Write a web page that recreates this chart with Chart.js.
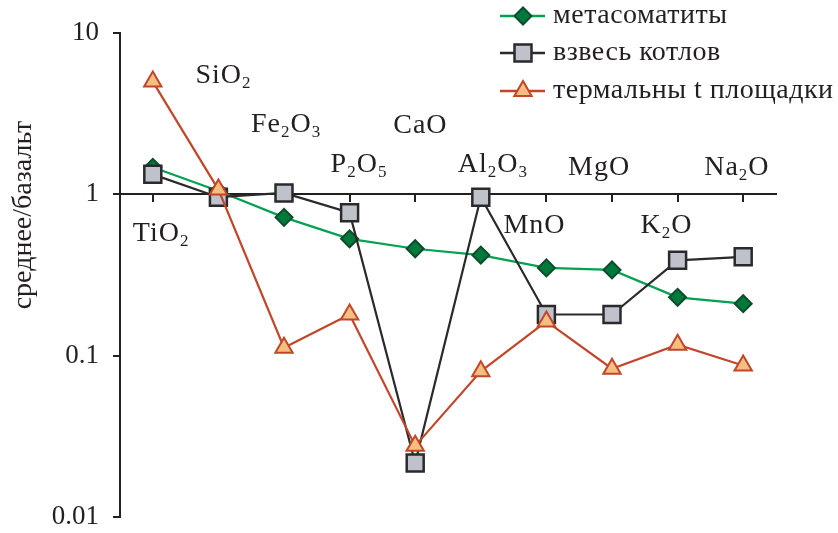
<!DOCTYPE html>
<html>
<head>
<meta charset="utf-8">
<script src="https://cdn.jsdelivr.net/npm/chart.js@4/dist/chart.umd.min.js"></script>
<style>
  html, body { margin: 0; padding: 0; background: #ffffff; }
  #wrap { width: 838px; height: 533px; position: relative; }
</style>
</head>
<body>
<div id="wrap"><canvas id="chart" width="838" height="533"></canvas></div>
<script>
// Oxides along the category axis (digits are rendered as subscripts)
const categories = ['TiO2', 'SiO2', 'Fe2O3', 'P2O5', 'CaO', 'Al2O3', 'MnO', 'MgO', 'K2O', 'Na2O'];

// Average composition normalised to basalt
const metasomatites = [1.47, 1.05, 0.72, 0.53, 0.46, 0.42, 0.35, 0.34, 0.23, 0.21];
const cauldronSuspension = [1.33, 0.96, 1.02, 0.77, 0.0216, 0.96, 0.18, 0.18, 0.39, 0.41];
const thermalSites = [5.0, 1.07, 0.112, 0.18, 0.0276, 0.080, 0.163, 0.083, 0.117, 0.087];

const seriesNames = ['метасоматиты', 'взвесь котлов', 'термальны t площадки'];
const yTicks = [0.01, 0.1, 1, 10];
const yTitle = 'среднее/базальт';

const INK = '#231f20';
const SERIF = "'Liberation Serif', 'Times New Roman', serif";

// Where each oxide name sits: offset from its category tick (dx) and from the axis line (dy)
const labelOffsets = [
  [-20, 47], [-23, -111], [-33, -62], [-19, -22], [-22, -61],
  [-23, -22], [-43, 39], [-44, -19], [-37, 39], [-39, -19]
];

const styles = [
  { line: '#05a051', fill: '#00793a', border: '#0b4d2a', shape: 'rectRot', radius: 8.5, borderWidth: 2 },
  { line: '#2a2a2d', fill: '#bfc2ca', border: '#2a2a2d', shape: 'rect', radius: 12, borderWidth: 2.5 },
  { line: '#c2462a', fill: '#f4bf80', border: '#c2462a', shape: 'triangle', radius: 10, borderWidth: 2 }
];

function splitFormula(text) {
  const parts = [];
  const re = /(\d+|\D+)/g;
  let m;
  while ((m = re.exec(text)) !== null) {
    parts.push({ text: m[0], sub: /\d/.test(m[0]) });
  }
  return parts;
}

function drawFormula(ctx, text, x, baseline) {
  let cx = x;
  for (const part of splitFormula(text)) {
    ctx.font = (part.sub ? '17px ' : '28px ') + SERIF;
    const y = part.sub ? baseline + 5 : baseline;
    ctx.fillText(part.text, cx, y);
    cx += ctx.measureText(part.text).width;
  }
}

const oxideLabels = {
  id: 'oxideLabels',
  afterDatasetsDraw(chart) {
    const ctx = chart.ctx;
    const xs = chart.scales.x;
    const ys = chart.scales.y;
    const axisY = ys.getPixelForValue(1);
    ctx.save();
    ctx.fillStyle = INK;
    ctx.textAlign = 'left';
    ctx.textBaseline = 'alphabetic';
    ctx.letterSpacing = '1px';
    categories.forEach((name, i) => {
      const px = xs.getPixelForValue(i);
      drawFormula(ctx, name, px + labelOffsets[i][0], axisY + labelOffsets[i][1]);
    });
    ctx.restore();
  }
};

const seriesKey = {
  id: 'seriesKey',
  afterDraw(chart) {
    const ctx = chart.ctx;
    const x0 = 500, x1 = 545, xm = 523, tx = 553;
    const rows = [16, 53, 91];
    ctx.save();
    seriesNames.forEach((name, i) => {
      const s = styles[i];
      const y = rows[i];
      ctx.strokeStyle = s.line;
      ctx.lineWidth = 2.5;
      ctx.beginPath();
      ctx.moveTo(x0, y);
      ctx.lineTo(x1, y);
      ctx.stroke();
      ctx.fillStyle = s.fill;
      ctx.strokeStyle = s.border;
      ctx.lineWidth = s.borderWidth;
      Chart.helpers.drawPoint(ctx, { pointStyle: s.shape, radius: s.radius, borderWidth: s.borderWidth, rotation: 0 }, xm, y);
      ctx.fillStyle = INK;
      ctx.font = '28px ' + SERIF;
      ctx.letterSpacing = '0.5px';
      ctx.textAlign = 'left';
      ctx.textBaseline = 'middle';
      ctx.fillText(name, tx, y);
    });
    ctx.restore();
  }
};

const sideTitle = {
  id: 'sideTitle',
  afterDraw(chart) {
    const ctx = chart.ctx;
    ctx.save();
    ctx.translate(24, 215);
    ctx.rotate(-Math.PI / 2);
    ctx.fillStyle = INK;
    ctx.font = '28px ' + SERIF;
    ctx.textAlign = 'center';
    ctx.textBaseline = 'middle';
    ctx.fillText(yTitle, 0, 0);
    ctx.restore();
  }
};

function makeDataset(label, data, s, order) {
  return {
    label,
    data,
    order,
    borderColor: s.line,
    borderWidth: 2.2,
    backgroundColor: s.fill,
    pointStyle: s.shape,
    pointRadius: s.radius,
    pointHoverRadius: s.radius,
    pointBackgroundColor: s.fill,
    pointBorderColor: s.border,
    pointBorderWidth: s.borderWidth,
    tension: 0,
    fill: false
  };
}

new Chart(document.getElementById('chart'), {
  type: 'line',
  data: {
    labels: categories,
    datasets: [
      makeDataset(seriesNames[0], metasomatites, styles[0], 3),
      makeDataset(seriesNames[1], cauldronSuspension, styles[1], 2),
      makeDataset(seriesNames[2], thermalSites, styles[2], 1)
    ]
  },
  options: {
    responsive: false,
    animation: false,
    devicePixelRatio: 1,
    layout: { padding: { top: 33, right: 62, bottom: 16, left: 0 } },
    plugins: {
      legend: { display: false },
      tooltip: { enabled: false },
      title: { display: false }
    },
    scales: {
      x: {
        type: 'category',
        axis: 'x',
        offset: true,
        position: { y: 1 },
        grid: {
          display: true,
          drawOnChartArea: false,
          drawTicks: true,
          tickLength: 7,
          color: INK,
          lineWidth: 2
        },
        border: { display: true, color: INK, width: 2 },
        ticks: { display: false }
      },
      y: {
        type: 'logarithmic',
        position: 'left',
        min: 0.01,
        max: 10,
        afterBuildTicks(scale) {
          scale.ticks = yTicks.map(v => ({ value: v, major: true }));
        },
        afterFit(scale) {
          scale.width = 120;
          scale.paddingTop = 0;
          scale.paddingBottom = 0;
        },
        grid: {
          display: true,
          drawOnChartArea: false,
          drawTicks: true,
          tickLength: 7,
          color: INK,
          lineWidth: 2
        },
        border: { display: true, color: INK, width: 2 },
        ticks: {
          padding: 14,
          color: INK,
          font: { family: SERIF, size: 27 },
          callback: v => String(v)
        }
      }
    }
  },
  plugins: [oxideLabels, seriesKey, sideTitle]
});
</script>
</body>
</html>
